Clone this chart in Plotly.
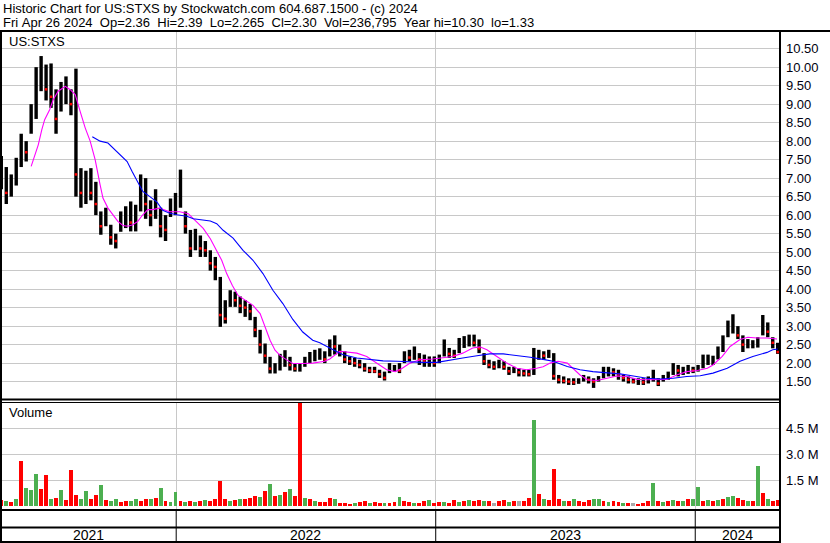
import plotly.graph_objects as go
import pandas as pd

W, H = 830, 543

# ---------------- data (weekly) ----------------
week_dates = pd.date_range("2021-04-30", "2024-04-26", freq="7D")

highs = [7.6, 7.3, 7.1, 7.55, 8.2, 8.0, 9.0, 10.0, 10.3, 10.07,
         10.1, 9.4, 9.6, 9.75, 9.4, 9.96, 7.27, 7.2, 7.27, 6.9,
         6.1, 6.2, 5.74, 5.5, 6.1, 6.24, 6.37, 6.28, 7.1, 7.0,
         6.4, 6.7, 6.2, 6.0, 6.45, 6.6, 7.23, 6.1, 5.6, 5.63,
         5.45, 5.3, 5.05, 4.87, 4.33, 3.7, 3.97, 3.93, 3.8, 3.7,
         3.6, 3.25, 2.9, 2.53, 2.17, 2.0, 2.25, 2.35, 2.17, 2.0,
         2.0, 2.17, 2.3, 2.36, 2.4, 2.32, 2.64, 2.75, 2.5, 2.32,
         2.18, 2.14, 2.09, 2.0, 1.9, 1.9, 1.82, 1.77, 2.0, 1.95,
         2.0, 2.32, 2.36, 2.45, 2.27, 2.23, 2.18, 2.18, 2.23, 2.64,
         2.41, 2.36, 2.68, 2.73, 2.77, 2.77, 2.64, 2.27, 2.09, 2.05,
         2.09, 2.05, 1.9, 1.9, 1.86, 1.82, 1.82, 2.41, 2.36, 2.32,
         2.36, 2.27, 1.68, 1.64, 1.59, 1.59, 1.59, 1.68, 1.64, 1.59,
         1.65, 1.9, 1.9, 1.86, 1.82, 1.68, 1.64, 1.59, 1.59, 1.59,
         1.64, 1.82, 1.59, 1.68, 1.77, 2.0, 1.95, 1.9, 1.95, 1.9,
         1.95, 2.23, 2.23, 2.2, 2.45, 2.75, 3.15, 3.32, 3.0, 2.75,
         2.65, 2.62, 2.7, 3.3, 3.1, 2.7, 2.55]

lows = [6.7, 6.3, 6.5, 6.8, 7.3, 7.45, 8.2, 8.6, 9.35, 9.1,
        8.9, 8.2, 8.8, 9.0, 8.7, 6.5, 6.2, 6.3, 6.4, 6.0,
        5.47, 5.7, 5.2, 5.1, 5.55, 5.65, 5.56, 5.56, 6.1, 5.9,
        5.7, 5.9, 5.4, 5.3, 5.95, 6.0, 6.2, 5.5, 4.87, 5.05,
        4.87, 4.87, 4.5, 4.24, 2.98, 3.07, 3.52, 3.52, 3.35, 3.25,
        3.16, 2.7, 2.26, 1.99, 1.72, 1.72, 1.8, 1.9, 1.8, 1.77,
        1.77, 1.9, 2.0, 2.05, 2.09, 2.0, 2.18, 2.23, 2.18, 2.0,
        1.95, 1.9, 1.86, 1.77, 1.73, 1.73, 1.6, 1.53, 1.73, 1.77,
        1.73, 2.0, 2.05, 2.09, 1.95, 1.9, 1.9, 1.9, 2.0, 2.18,
        2.14, 2.14, 2.27, 2.41, 2.45, 2.45, 2.27, 1.95, 1.86, 1.82,
        1.86, 1.82, 1.68, 1.73, 1.64, 1.64, 1.64, 1.68, 2.09, 2.09,
        2.14, 1.55, 1.45, 1.45, 1.41, 1.41, 1.44, 1.5, 1.45, 1.33,
        1.5, 1.59, 1.64, 1.64, 1.55, 1.5, 1.45, 1.45, 1.41, 1.41,
        1.45, 1.5, 1.38, 1.5, 1.55, 1.68, 1.64, 1.68, 1.71, 1.73,
        1.77, 1.86, 1.95, 1.95, 2.1, 2.3, 2.7, 2.8, 2.65, 2.3,
        2.4, 2.4, 2.42, 2.75, 2.7, 2.4, 2.25]

closes = [7.0, 6.6, 6.8, 7.3, 7.8, 7.7, 8.6, 9.6, 9.7, 9.4,
          9.2, 8.6, 9.2, 9.3, 9.0, 7.1, 6.6, 6.8, 6.6, 6.3,
          5.7, 5.9, 5.4, 5.3, 5.8, 5.9, 5.8, 6.0, 6.6, 6.3,
          6.0, 6.3, 5.7, 5.6, 6.2, 6.3, 6.4, 5.7, 5.1, 5.3,
          5.1, 5.05, 4.7, 4.6, 3.3, 3.2, 3.8, 3.7, 3.55, 3.5,
          3.4, 2.9, 2.5, 2.2, 1.85, 1.85, 2.0, 2.1, 1.95, 1.85,
          1.9, 2.05, 2.15, 2.2, 2.25, 2.1, 2.5, 2.45, 2.3, 2.1,
          2.05, 2.0, 1.95, 1.85, 1.8, 1.78, 1.7, 1.6, 1.85, 1.85,
          1.8, 2.2, 2.15, 2.2, 2.1, 2.05, 2.05, 2.0, 2.1, 2.45,
          2.25, 2.2, 2.5, 2.55, 2.6, 2.55, 2.4, 2.05, 1.95, 1.9,
          1.95, 1.9, 1.78, 1.8, 1.75, 1.72, 1.7, 2.2, 2.25, 2.2,
          2.25, 1.65, 1.55, 1.52, 1.5, 1.48, 1.5, 1.6, 1.55, 1.5,
          1.58, 1.75, 1.8, 1.75, 1.7, 1.6, 1.55, 1.5, 1.5, 1.48,
          1.55, 1.6, 1.45, 1.6, 1.65, 1.85, 1.8, 1.8, 1.85, 1.8,
          1.85, 2.05, 2.1, 2.1, 2.35, 2.65, 2.95, 2.95, 2.75, 2.5,
          2.5, 2.5, 2.6, 3.1, 2.85, 2.55, 2.30]

volumes_m = [0.35, 0.3, 0.25, 0.4, 2.61, 1.04, 0.95, 1.86, 0.98, 1.8,
             0.45, 0.5, 0.95, 0.35, 2.1, 0.65, 0.45, 0.9, 0.4, 0.65,
             1.23, 0.35, 0.3, 0.4, 0.25, 0.3, 0.3, 0.45, 0.3, 0.45,
             0.4, 0.5, 1.04, 0.3, 0.25, 0.85, 0.3, 0.25, 0.3, 0.25,
             0.3, 0.35, 0.3, 0.4, 1.46, 0.45, 0.3, 0.35, 0.4, 0.45,
             0.5, 0.6, 0.55, 0.9, 1.27, 0.6, 0.65, 0.8, 1.0, 0.6,
             6.1, 0.5, 0.4, 0.3, 0.25, 0.25, 0.5, 0.45, 0.2, 0.2,
             0.15, 0.2, 0.25, 0.3, 0.2, 0.25, 0.2, 0.2, 0.2, 0.25,
             0.56, 0.3, 0.25, 0.2, 0.2, 0.3, 0.35, 0.2, 0.25, 0.25,
             0.2, 0.35, 0.25, 0.3, 0.35, 0.3, 0.35, 0.3, 0.3, 0.2,
             0.3, 0.35, 0.25, 0.3, 0.3, 0.3, 0.5, 4.98, 0.72, 0.4,
             0.35, 2.15, 0.45, 0.3, 0.3, 0.45, 0.3, 0.25, 0.35, 0.4,
             0.45, 0.3, 0.25, 0.3, 0.25, 0.2, 0.2, 0.2, 0.15, 0.2,
             0.3, 1.33, 0.3, 0.25, 0.3, 0.35, 0.3, 0.3, 0.45, 0.4,
             1.1, 0.3, 0.35, 0.3, 0.35, 0.4, 0.55, 0.6, 0.5, 0.35,
             0.3, 0.3, 2.33, 0.77, 0.4, 0.3, 0.35]

# r = down (red), g = up (green), n = unchanged (grey)
volume_direction = ("rgrgrgggrr" "grgrrrggrr" "grggrrggrr" "grgrggrgrg"
                    "rgrrrrgrgr" "rrgrgrgrgr" "rgrgrrrgrr" "rgrrgrrgrr"
                    "grrgrrgrrg" "rrgrgrrgrn" "rrgrnrrgrg" "rrrgrgrrrg"
                    "grgrrgrnrr" "rgrgrgrgrg" "grgrgrggrr" "grgrgrr")

ma_fast_dates = ["2021-06-11", "2021-06-16", "2021-06-21", "2021-06-26", "2021-06-30", "2021-07-07",
                 "2021-07-12", "2021-07-19", "2021-07-29", "2021-08-05", "2021-08-12", "2021-08-19",
                 "2021-08-26", "2021-09-02", "2021-09-09", "2021-09-16", "2021-09-20", "2021-09-27",
                 "2021-10-04", "2021-10-11", "2021-10-18", "2021-10-25", "2021-11-01", "2021-11-08",
                 "2021-11-15", "2021-11-22", "2021-11-29", "2021-12-08", "2021-12-23", "2022-01-06",
                 "2022-01-18", "2022-01-27", "2022-02-08", "2022-02-18", "2022-02-27", "2022-03-06",
                 "2022-03-13", "2022-03-21", "2022-03-29", "2022-04-11", "2022-04-19", "2022-04-29",
                 "2022-05-06", "2022-05-13", "2022-05-20", "2022-05-27", "2022-06-06", "2022-06-14",
                 "2022-06-28", "2022-07-12", "2022-07-29", "2022-08-05", "2022-08-19", "2022-08-29",
                 "2022-09-12", "2022-09-26", "2022-10-10", "2022-10-24", "2022-11-05", "2022-11-15",
                 "2022-11-26", "2022-12-10", "2022-12-28", "2023-01-11", "2023-01-25", "2023-02-08",
                 "2023-02-22", "2023-03-04", "2023-03-14", "2023-03-28", "2023-04-11", "2023-04-25",
                 "2023-05-09", "2023-05-23", "2023-06-01", "2023-06-11", "2023-06-22", "2023-07-05",
                 "2023-07-13", "2023-07-23", "2023-08-02", "2023-08-16", "2023-08-30", "2023-09-13",
                 "2023-09-27", "2023-10-11", "2023-10-25", "2023-11-08", "2023-11-22", "2023-12-06",
                 "2023-12-20", "2024-01-04", "2024-01-18", "2024-01-26", "2024-02-08", "2024-02-19",
                 "2024-03-04", "2024-03-15", "2024-03-28", "2024-04-11", "2024-04-25"]
ma_fast = [7.32, 7.59, 7.9, 8.31, 8.58, 8.85,
           9.12, 9.35, 9.48, 9.39, 9.26, 8.8,
           8.36, 8.0, 7.5, 6.82, 6.46, 6.19,
           6.01, 5.83, 5.72, 5.7, 5.74, 5.83,
           6.01, 6.15, 6.15, 6.19, 6.09, 6.09,
           6.04, 5.86, 5.64, 5.36, 5.05, 4.78,
           4.42, 4.1, 3.83, 3.65, 3.56, 3.34,
           2.98, 2.62, 2.35, 2.21, 2.08, 1.99,
           1.99, 2.0, 2.05, 2.11, 2.32, 2.3,
           2.27, 2.18, 2.0, 1.82, 1.77, 1.86,
           2.0, 2.09, 2.11, 2.14, 2.18, 2.27,
           2.41, 2.44, 2.36, 2.18, 2.0, 1.86,
           1.82, 1.86, 1.9, 2.0, 2.05, 2.0,
           1.86, 1.68, 1.55, 1.53, 1.59, 1.65,
           1.64, 1.56, 1.55, 1.55, 1.56, 1.68,
           1.77, 1.8, 1.86, 1.95, 2.18, 2.45,
           2.64, 2.7, 2.68, 2.68, 2.65]

ma_slow_dates = ["2021-09-05", "2021-09-16", "2021-09-27", "2021-10-07", "2021-10-14", "2021-10-24",
                 "2021-10-31", "2021-11-07", "2021-11-15", "2021-11-25", "2021-12-05", "2021-12-13",
                 "2021-12-23", "2022-01-02", "2022-01-16", "2022-01-25", "2022-02-03", "2022-02-18",
                 "2022-02-27", "2022-03-08", "2022-03-22", "2022-04-05", "2022-04-19", "2022-05-03",
                 "2022-05-17", "2022-05-31", "2022-06-14", "2022-06-28", "2022-07-12", "2022-07-22",
                 "2022-08-05", "2022-08-23", "2022-09-12", "2022-10-01", "2022-10-19", "2022-11-08",
                 "2022-11-26", "2022-12-14", "2023-01-03", "2023-01-21", "2023-02-08", "2023-02-28",
                 "2023-03-18", "2023-04-06", "2023-04-25", "2023-05-14", "2023-06-01", "2023-06-15",
                 "2023-07-05", "2023-07-23", "2023-08-10", "2023-08-30", "2023-09-17", "2023-10-06",
                 "2023-10-25", "2023-11-13", "2023-12-01", "2023-12-20", "2024-01-08", "2024-01-26",
                 "2024-02-15", "2024-03-04", "2024-03-22", "2024-04-11", "2024-04-19", "2024-04-26"]
ma_slow = [8.12, 8.0, 7.95, 7.77, 7.64, 7.45,
           7.18, 6.91, 6.64, 6.5, 6.35, 6.13,
           6.05, 6.01, 5.97, 5.9, 5.88, 5.84,
           5.77, 5.59, 5.38, 5.05, 4.78, 4.42,
           3.97, 3.61, 3.18, 2.84, 2.62, 2.55,
           2.41, 2.23, 2.14, 2.09, 2.06, 2.05,
           2.03, 2.02, 2.02, 2.07, 2.14, 2.2,
           2.25, 2.25, 2.21, 2.16, 2.1, 2.05,
           1.91, 1.82, 1.77, 1.73, 1.71, 1.65,
           1.59, 1.57, 1.59, 1.64, 1.66, 1.73,
           1.86, 2.05, 2.18, 2.29, 2.36, 2.38]

price_ticks = [1.5, 2.0, 2.5, 3.0, 3.5, 4.0, 4.5, 5.0, 5.5, 6.0,
               6.5, 7.0, 7.5, 8.0, 8.5, 9.0, 9.5, 10.0, 10.5]
price_tick_text = ["%.2f" % v for v in price_ticks]
vol_ticks = [1.5e6, 3.0e6, 4.5e6]
vol_tick_text = ["1.5 M", "3.0 M", "4.5 M"]
year_starts = ["2022-01-01", "2023-01-01", "2024-01-01"]
year_labels = ["2021", "2022", "2023", "2024"]
year_label_dates = ["2021-08-31", "2022-07-02", "2023-07-02", "2024-02-29"]

header1 = "Historic Chart for US:STXS by Stockwatch.com 604.687.1500 - (c) 2024"
header2 = ("Fri Apr 26 2024  Op=2.36  Hi=2.39  Lo=2.265  Cl=2.30  "
           "Vol=236,795  Year hi=10.30  lo=1.33")
symbol_label = "US:STXS"
volume_label = "Volume"

# ---------------- figure ----------------
FONT = "Liberation Sans, Arial, sans-serif"
GRID = "#C8C8C8"
RED = "#FF0000"
GREEN = "#4CAF50"
GREY = "#A8A8A8"

def px_x(p):
    return p / W

def px_y(p):
    return 1 - p / H

# high-low bars built as line segments from the data
bar_x, bar_y = [], []
for d, hi, lo in zip(week_dates, highs, lows):
    bar_x += [d, d, None]
    bar_y += [lo, hi, None]

down_x = [week_dates[i] for i in range(1, len(closes)) if closes[i] < closes[i - 1]]
down_y = [closes[i] for i in range(1, len(closes)) if closes[i] < closes[i - 1]]

color_map = {"r": RED, "g": GREEN, "n": GREY}
vol_colors = [color_map[c] for c in volume_direction]
volumes = [v * 1e6 for v in volumes_m]

fig = go.Figure()
fig.add_trace(go.Scatter(x=bar_x, y=bar_y, mode="lines",
                         line=dict(color="black", width=3.4),
                         hoverinfo="skip", xaxis="x", yaxis="y"))
fig.add_trace(go.Scatter(x=down_x, y=down_y, mode="markers",
                         marker=dict(color=RED, size=2.5, symbol="square", line=dict(width=0)),
                         hoverinfo="skip", xaxis="x", yaxis="y"))
fig.add_trace(go.Scatter(x=ma_fast_dates, y=ma_fast, mode="lines",
                         line=dict(color="#FF00FF", width=1.1), xaxis="x", yaxis="y"))
fig.add_trace(go.Scatter(x=ma_slow_dates, y=ma_slow, mode="lines",
                         line=dict(color="#0000FF", width=1.1), xaxis="x", yaxis="y"))
fig.add_trace(go.Bar(x=week_dates, y=volumes, marker=dict(color=vol_colors, line=dict(width=0)),
                     width=5.5 * 86400000, xaxis="x2", yaxis="y2"))

x_range = ["2021-05-01", "2024-04-29 05:00"]
x_dom = [px_x(2), px_x(780)]

axis_common = dict(type="date", range=x_range, domain=x_dom, showticklabels=False,
                   tickvals=year_starts, showgrid=True, gridcolor=GRID, gridwidth=1,
                   zeroline=False, showline=False, ticks="", fixedrange=True)

fig.update_layout(
    width=W, height=H, autosize=False,
    margin=dict(l=0, r=0, t=0, b=0, pad=0),
    paper_bgcolor="white", plot_bgcolor="white",
    showlegend=False, bargap=0, hovermode=False,
    font=dict(family=FONT, size=13, color="black"),
    xaxis=dict(anchor="y", **axis_common),
    xaxis2=dict(anchor="y2", matches="x", **axis_common),
    yaxis=dict(domain=[px_y(399), px_y(32)], range=[1.03, 10.95], side="right",
               tickvals=price_ticks, ticktext=price_tick_text, showgrid=True,
               gridcolor=GRID, gridwidth=1, zeroline=False, showline=False, ticks="",
               tickfont=dict(family=FONT, size=13, color="#000010"),
               ticklabelstandoff=5, automargin=False, fixedrange=True),
    yaxis2=dict(domain=[px_y(509), px_y(402)], range=[-0.156e6, 6.017e6], side="right",
                tickvals=vol_ticks, ticktext=vol_tick_text, showgrid=True,
                gridcolor=GRID, gridwidth=1, zeroline=False, showline=False, ticks="",
                tickfont=dict(family=FONT, size=13, color="#000010"),
                ticklabelstandoff=5, automargin=False, fixedrange=True),
)

# panel borders
shapes = []
def hline(ypx, x0, x1, w):
    shapes.append(dict(type="line", xref="paper", yref="paper", x0=px_x(x0), x1=px_x(x1),
                       y0=px_y(ypx), y1=px_y(ypx), line=dict(color="black", width=w)))
def vline(xpx, y0, y1, w):
    shapes.append(dict(type="line", xref="paper", yref="paper", x0=px_x(xpx), x1=px_x(xpx),
                       y0=px_y(y0), y1=px_y(y1), line=dict(color="black", width=w)))

hline(31, 0, 830, 2)
hline(399.5, 0, 781, 2)
hline(402.5, 0, 781, 1)
hline(510, 0, 781, 2)
hline(527.5, 0, 781, 2)
hline(542, 0, 781, 2)
vline(1, 31, 543, 2)
vline(780, 31, 543, 2)
for ys in year_starts:
    shapes.append(dict(type="line", xref="x", yref="paper", x0=ys, x1=ys,
                       y0=0, y1=px_y(510), line=dict(color="black", width=1)))
fig.update_layout(shapes=shapes)

ann = []
ann.append(dict(text=header1, x=px_x(1), y=px_y(8.5), xref="paper", yref="paper",
                xanchor="left", yanchor="middle", showarrow=False,
                font=dict(family=FONT, size=13, color="black")))
ann.append(dict(text=header2.replace(" ", "\u00a0"), x=px_x(1), y=px_y(22), xref="paper",
                yref="paper", xanchor="left", yanchor="middle", showarrow=False,
                font=dict(family=FONT, size=13, color="black")))
ann.append(dict(text=symbol_label, x=px_x(7), y=px_y(41), xref="paper", yref="paper",
                xanchor="left", yanchor="middle", showarrow=False,
                font=dict(family=FONT, size=13, color="black")))
ann.append(dict(text=volume_label, x=px_x(7), y=px_y(413), xref="paper", yref="paper",
                xanchor="left", yanchor="middle", showarrow=False,
                font=dict(family=FONT, size=13, color="black")))
for lbl, d in zip(year_labels, year_label_dates):
    ann.append(dict(text=lbl, x=d, y=px_y(535), xref="x", yref="paper",
                    xanchor="center", yanchor="middle", showarrow=False,
                    font=dict(family=FONT, size=14, color="black")))
fig.update_layout(annotations=ann)

fig.write_html("out.html", config={"displayModeBar": False, "staticPlot": True},
               post_script="document.body.style.margin='0';document.body.style.overflow='hidden';")
